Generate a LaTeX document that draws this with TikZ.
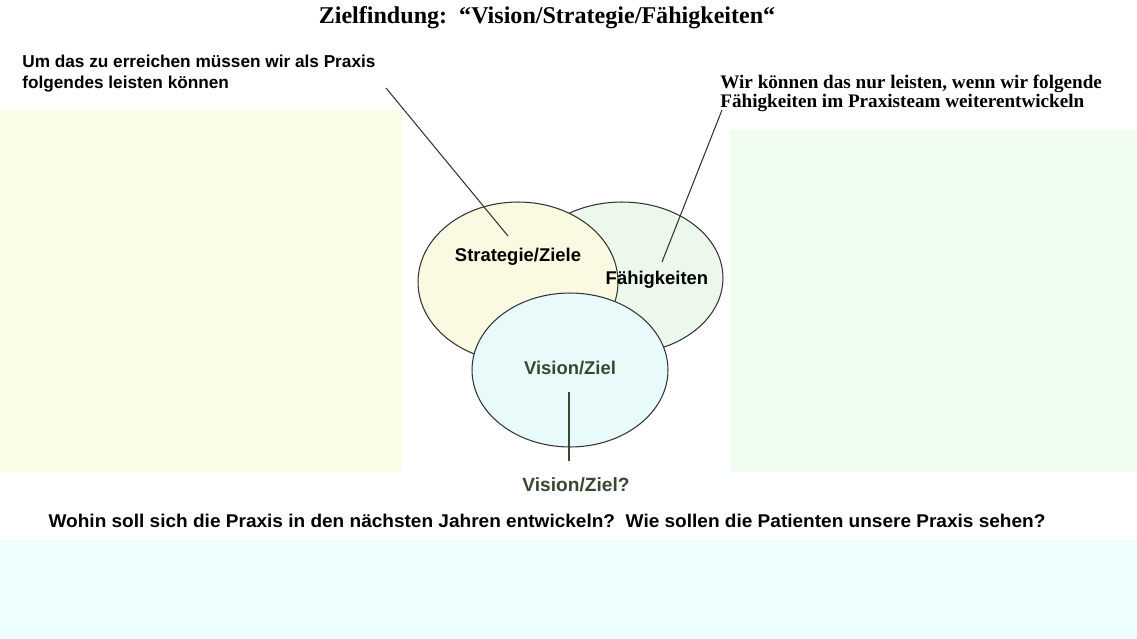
\documentclass[tikz,border=0pt]{standalone}
\usepackage{graphicx}
\usepackage{fontspec}
\setmainfont{Liberation Serif}
\setsansfont{Liberation Sans}
\usetikzlibrary{shapes}
\definecolor{creambox}{HTML}{FAFDE6}
\definecolor{greenbox}{HTML}{EFFEEF}
\definecolor{cyanbox}{HTML}{EEFEFE}
\definecolor{stratfill}{HTML}{FAFAE2}
\definecolor{faehfill}{HTML}{EBF8EB}
\definecolor{visfill}{HTML}{E8FAFA}
\definecolor{olivetext}{HTML}{3B4830}
\definecolor{linegray}{HTML}{333333}

\begin{document}
\begin{tikzpicture}[x=0.02cm,y=-0.02cm,
  every node/.style={inner sep=0pt},
  oval/.style={draw=black!80, ellipse, line width=0.6pt},
  label/.style={font=\sffamily\bfseries\fontsize{10.5}{12}\selectfont},
  pointer/.style={draw=linegray, line width=0.6pt}]
\useasboundingbox (0,0) rectangle (1137,639);
% background fields
\fill[creambox] (0,110) rectangle (402,472);
\fill[greenbox] (730,130) rectangle (1137,472);
\fill[cyanbox] (0,540) rectangle (1137,639);
% texts
\node[font=\rmfamily\bfseries\fontsize{13.7}{16}\selectfont] (title) at (547,18) {Zielfindung:\ \ “Vision/Strategie/Fähigkeiten“};
\node[anchor=north west, align=left, font=\sffamily\bfseries\fontsize{9.8}{12}\selectfont] (leftq) at (22,55) {Um das zu erreichen müssen wir als Praxis\\folgendes leisten können};
\node[anchor=north west, align=left, font=\rmfamily\bfseries\fontsize{10.9}{10.4}\selectfont] (rightq) at (720,75) {Wir können das nur leisten, wenn wir folgende\\Fähigkeiten im Praxisteam weiterentwickeln};
\node[font=\sffamily\bfseries\fontsize{10.5}{12}\selectfont] (bottomq) at (547,521) {\resizebox{19.94cm}{\height}{Wohin soll sich die Praxis in den nächsten Jahren entwickeln?\ \ Wie sollen die Patienten unsere Praxis sehen?}};
% the three ellipses
\node[oval, fill=faehfill, minimum width=4.04cm, minimum height=3.04cm] (faeh) at (622,278) {};
\node[oval, fill=stratfill, minimum width=4cm, minimum height=3.2cm] (strat) at (518,282) {};
\node[oval, fill=visfill, minimum width=3.92cm, minimum height=3.08cm] (vis) at (570,370) {};
\node[label] (stratlbl) at (518,257) {Strategie/Ziele};
\node[label] (faehlbl) at (657,280) {Fähigkeiten};
\node[label, text=olivetext] (vislbl) at (570,368) {Vision/Ziel};
\node[label, text=olivetext, font=\sffamily\bfseries\fontsize{10.9}{12}\selectfont] (visq) at (576,485) {Vision/Ziel?};
% pointers
\coordinate (stratA) at (386,88);
\coordinate (stratB) at (508,236);
\coordinate (faehA) at (722,110);
\coordinate (faehB) at (662,262);
\coordinate (visA) at (569,392);
\coordinate (visB) at (569,461);
\draw[pointer] (stratA) -- (stratB);
\draw[pointer] (faehA) -- (faehB);
\draw[pointer, draw=olivetext] (visA) -- (visB);
\end{tikzpicture}
\end{document}
